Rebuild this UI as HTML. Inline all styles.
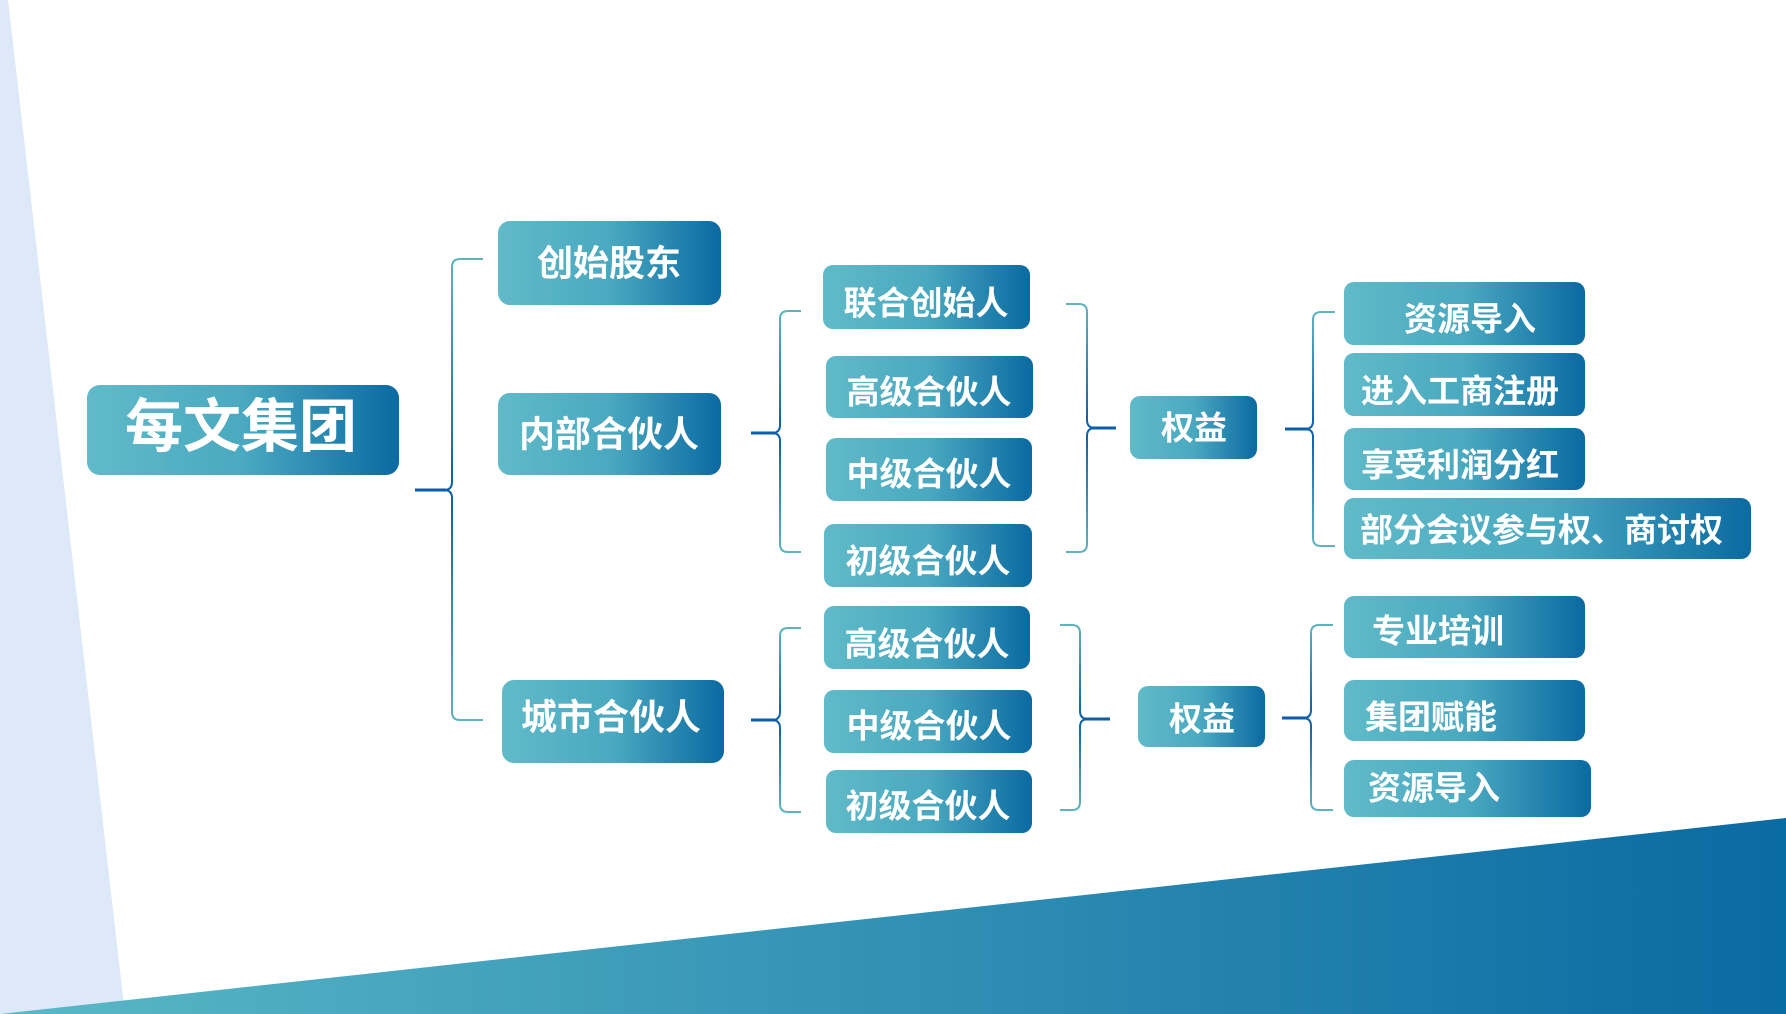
<!DOCTYPE html>
<html><head><meta charset="utf-8"><style>
html,body{margin:0;padding:0;background:#fff;}
svg{display:block;}
text{font-family:"Liberation Sans","Noto Sans CJK SC",sans-serif;font-weight:bold;fill:#fff;dominant-baseline:central;}
</style></head><body>
<svg width="1786" height="1014" viewBox="0 0 1786 1014" xmlns="http://www.w3.org/2000/svg">
<defs>
<linearGradient id="g" x1="0" y1="0" x2="1" y2="0">
<stop offset="0" stop-color="#60bac8"/><stop offset="0.5" stop-color="#4aa9c0"/><stop offset="1" stop-color="#0a6aa2"/>
</linearGradient>
<linearGradient id="bg" x1="0" y1="0" x2="1" y2="0">
<stop offset="0" stop-color="#5ab8c6"/><stop offset="1" stop-color="#0a6aa2"/>
</linearGradient>
<linearGradient id="ln" x1="0" y1="0" x2="0" y2="1">
<stop offset="0" stop-color="#5fb3bd"/><stop offset="0.5" stop-color="#0c5ea8"/><stop offset="1" stop-color="#5fb3bd"/>
</linearGradient>
</defs>
<polygon points="0,0 8,0 125,1014 0,1014" fill="#dde8f8"/>
<polygon points="0,1014 1786,818 1786,1014" fill="url(#bg)"/>

<g fill="none" stroke-width="2">
<!-- main bracket -->
<path d="M483,259 L460,259 Q452,259 452,267 L452,482 Q452,490 444,490 L415,490 M444,490 Q452,490 452,498 L452,712 Q452,720 460,720 L483,720" stroke="url(#ln)"/>
<path d="M415,490 L446,490" stroke="#0c5ea8" stroke-width="3"/>
<!-- inner bracket -->
<path d="M801,311 L788,311 Q780,311 780,319 L780,425 Q780,433 772,433 M772,433 Q780,433 780,441 L780,544 Q780,552 788,552 L801,552" stroke="url(#ln)"/>
<path d="M751,433 L775,433" stroke="#0c5ea8" stroke-width="3"/>
<!-- city bracket -->
<path d="M801,628 L788,628 Q780,628 780,636 L780,712 Q780,720 772,720 M772,720 Q780,720 780,728 L780,804 Q780,812 788,812 L801,812" stroke="url(#ln)"/>
<path d="M751,720 L775,720" stroke="#0c5ea8" stroke-width="3"/>
<!-- right-facing 1 -->
<path d="M1066,304 L1079,304 Q1087,304 1087,312 L1087,420 Q1087,428 1095,428 M1095,428 Q1087,428 1087,436 L1087,544 Q1087,552 1079,552 L1066,552" stroke="url(#ln)"/>
<path d="M1092,428 L1116,428" stroke="#0c5ea8" stroke-width="3"/>
<!-- right-facing 2 -->
<path d="M1060,625 L1072,625 Q1080,625 1080,633 L1080,711 Q1080,719 1088,719 M1088,719 Q1080,719 1080,727 L1080,802 Q1080,810 1072,810 L1060,810" stroke="url(#ln)"/>
<path d="M1085,719 L1110,719" stroke="#0c5ea8" stroke-width="3"/>
<!-- right col bracket 1 -->
<path d="M1335,312 L1321,312 Q1313,312 1313,320 L1313,421 Q1313,429 1305,429 M1305,429 Q1313,429 1313,437 L1313,538 Q1313,546 1321,546 L1335,546" stroke="url(#ln)"/>
<path d="M1285,429 L1308,429" stroke="#0c5ea8" stroke-width="3"/>
<!-- right col bracket 2 -->
<path d="M1333,625 L1319,625 Q1311,625 1311,633 L1311,710 Q1311,718 1303,718 M1303,718 Q1311,718 1311,726 L1311,802 Q1311,810 1319,810 L1333,810" stroke="url(#ln)"/>
<path d="M1282,718 L1306,718" stroke="#0c5ea8" stroke-width="3"/>
</g>

<g fill="url(#g)">
<rect x="87" y="385" width="312" height="90" rx="13"/>
<rect x="498" y="221" width="223" height="84" rx="12"/>
<rect x="498" y="393" width="223" height="82" rx="12"/>
<rect x="502" y="680" width="222" height="83" rx="12"/>
<rect x="823" y="265" width="207" height="64" rx="10"/>
<rect x="826" y="356" width="207" height="62" rx="10"/>
<rect x="826" y="438" width="206" height="63" rx="10"/>
<rect x="824" y="524" width="208" height="63" rx="10"/>
<rect x="824" y="606" width="206" height="63" rx="10"/>
<rect x="824" y="690" width="208" height="63" rx="10"/>
<rect x="826" y="770" width="206" height="63" rx="10"/>
<rect x="1130" y="396" width="127" height="63" rx="10"/>
<rect x="1138" y="686" width="127" height="61" rx="10"/>
<rect x="1344" y="282" width="241" height="63" rx="10"/>
<rect x="1344" y="353" width="241" height="63" rx="10"/>
<rect x="1344" y="428" width="241" height="62" rx="10"/>
<rect x="1344" y="498" width="407" height="61" rx="10"/>
<rect x="1344" y="596" width="241" height="62" rx="10"/>
<rect x="1344" y="680" width="241" height="61" rx="10"/>
<rect x="1344" y="760" width="247" height="57" rx="10"/>
</g>

<text x="241" y="427" font-size="58" text-anchor="middle">每文集团</text>
<text x="609" y="263" font-size="36" text-anchor="middle">创始股东</text>
<text x="609" y="434" font-size="36" text-anchor="middle">内部合伙人</text>
<text x="611" y="717" font-size="36" text-anchor="middle">城市合伙人</text>
<g font-size="33" text-anchor="middle">
<text x="926" y="303">联合创始人</text>
<text x="929" y="392">高级合伙人</text>
<text x="929" y="474">中级合伙人</text>
<text x="928" y="561">初级合伙人</text>
<text x="927" y="644">高级合伙人</text>
<text x="929" y="726">中级合伙人</text>
<text x="928" y="806">初级合伙人</text>
<text x="1194" y="428">权益</text>
<text x="1202" y="719">权益</text>
<text x="1470" y="319">资源导入</text>
</g>
<g font-size="33">
<text x="1361" y="391">进入工商注册</text>
<text x="1361" y="465">享受利润分红</text>
<text x="1360" y="530">部分会议参与权、商讨权</text>
<text x="1372" y="631">专业培训</text>
<text x="1365" y="717">集团赋能</text>
<text x="1368" y="788">资源导入</text>
</g>
</svg>
</body></html>
